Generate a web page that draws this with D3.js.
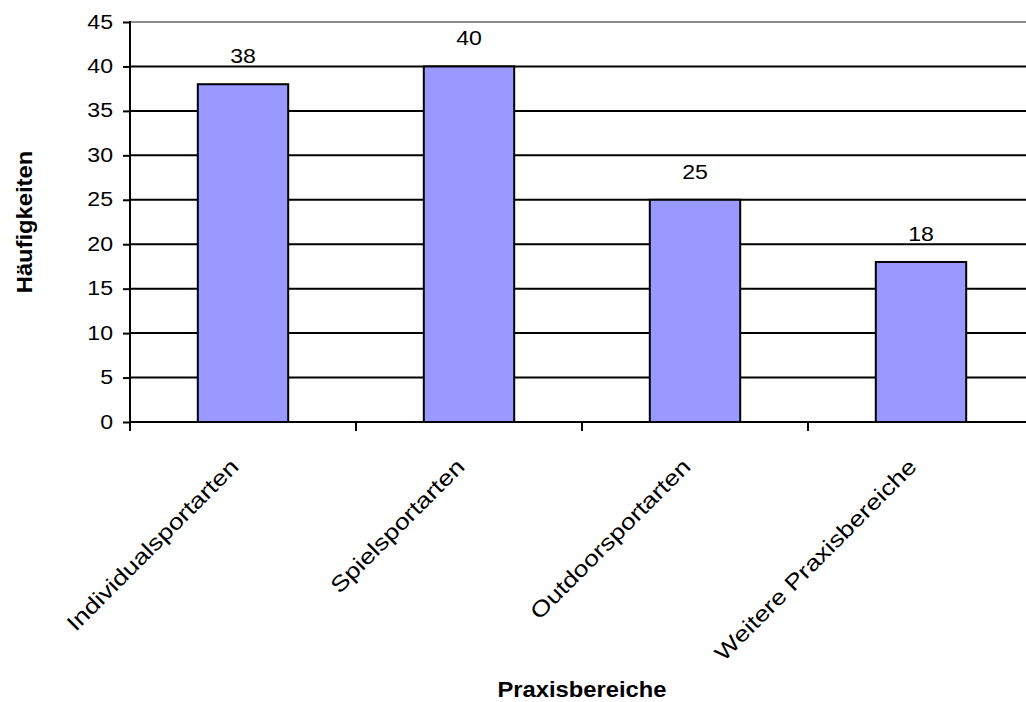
<!DOCTYPE html>
<html>
<head>
<meta charset="utf-8">
<script src="https://cdn.jsdelivr.net/npm/d3@7"></script>
<style>
  body { margin: 0; background: #fff; }
  svg { display: block; font-family: "Liberation Sans", Arial, sans-serif; }
</style>
</head>
<body>
<svg id="chart" width="1026" height="702"></svg>
<script>
// Practice areas and their counts
const categories = ["Individualsportarten", "Spielsportarten", "Outdoorsportarten", "Weitere Praxisbereiche"];
const counts = [38, 40, 25, 18];
const yTicks = [0, 5, 10, 15, 20, 25, 30, 35, 40, 45];

const svg = d3.select("#chart");
const W = 1026, H = 702;
const x0 = 130, x1 = 1034;
const yTop = 22, yBot = 422;

// Plain text is drawn slightly wide, like the original typeface
const STRETCH = 1.1;

const x = d3.scaleBand().domain(categories).range([x0, x1]).paddingInner(0.6).paddingOuter(0.3);
const xBand = d3.scaleBand().domain(categories).range([x0, x1]);
const y = d3.scaleLinear().domain([0, 45]).range([yBot, yTop]);

// Horizontal gridlines
svg.append("g").selectAll("line").data(yTicks.filter(d => d > 0)).join("line")
  .attr("x1", x0).attr("x2", x1)
  .attr("y1", d => y(d)).attr("y2", d => y(d))
  .attr("stroke", d => d === 45 ? "#8c8c8c" : "#000")
  .attr("stroke-width", 2);

// Bars
svg.append("g").selectAll("rect").data(categories).join("rect")
  .attr("x", d => x(d))
  .attr("width", x.bandwidth())
  .attr("y", (d, i) => y(counts[i]))
  .attr("height", (d, i) => y(0) - y(counts[i]))
  .attr("fill", "#9999ff")
  .attr("stroke", "#000")
  .attr("stroke-width", 2);

// Value labels above the bars
svg.append("g").selectAll("text").data(categories).join("text")
  .attr("transform", (d, i) => `translate(${x(d) + x.bandwidth() / 2},${y(counts[i]) - 21}) scale(${STRETCH},1)`)
  .attr("text-anchor", "middle")
  .attr("font-size", 21)
  .text((d, i) => counts[i]);

// Y axis: ticks and labels
const yAxis = svg.append("g").attr("transform", `translate(${x0},0)`)
  .call(d3.axisLeft(y).tickValues(yTicks).tickSize(7).tickFormat(""));
yAxis.select(".domain").remove();
yAxis.selectAll(".tick line").attr("stroke", "#000").attr("stroke-width", 2);
svg.append("g").selectAll("text").data(yTicks).join("text")
  .attr("transform", d => `translate(${x0 - 17},${y(d) + 6.5}) scale(${STRETCH},1)`)
  .attr("text-anchor", "end")
  .attr("font-size", 21)
  .text(d => d);
svg.append("line").attr("x1", x0).attr("x2", x0).attr("y1", yTop - 1).attr("y2", yBot + 9)
  .attr("stroke", "#000").attr("stroke-width", 2);

// X axis baseline and category separators
svg.append("line").attr("x1", x0).attr("x2", x1).attr("y1", yBot).attr("y2", yBot)
  .attr("stroke", "#000").attr("stroke-width", 2);
svg.append("g").selectAll("line").data(categories.slice(1)).join("line")
  .attr("x1", d => xBand(d)).attr("x2", d => xBand(d))
  .attr("y1", yBot).attr("y2", yBot + 9)
  .attr("stroke", "#000").attr("stroke-width", 2);

// Rotated category labels
svg.append("g").selectAll("text").data(categories).join("text")
  .attr("transform", d => `translate(${xBand(d) + xBand.bandwidth() / 2 - 3},${yBot + 46}) rotate(-45) scale(1.21,1)`)
  .attr("text-anchor", "end")
  .attr("font-size", 22)
  .text(d => d);

// Axis titles
svg.append("text")
  .attr("transform", `translate(32,${(yTop + yBot) / 2}) rotate(-90) scale(1.08,1)`)
  .attr("text-anchor", "middle")
  .attr("font-size", 22).attr("font-weight", "bold")
  .text("Häufigkeiten");
svg.append("text")
  .attr("transform", `translate(582,697) scale(1.08,1)`)
  .attr("text-anchor", "middle")
  .attr("font-size", 22).attr("font-weight", "bold")
  .text("Praxisbereiche");
</script>
</body>
</html>
